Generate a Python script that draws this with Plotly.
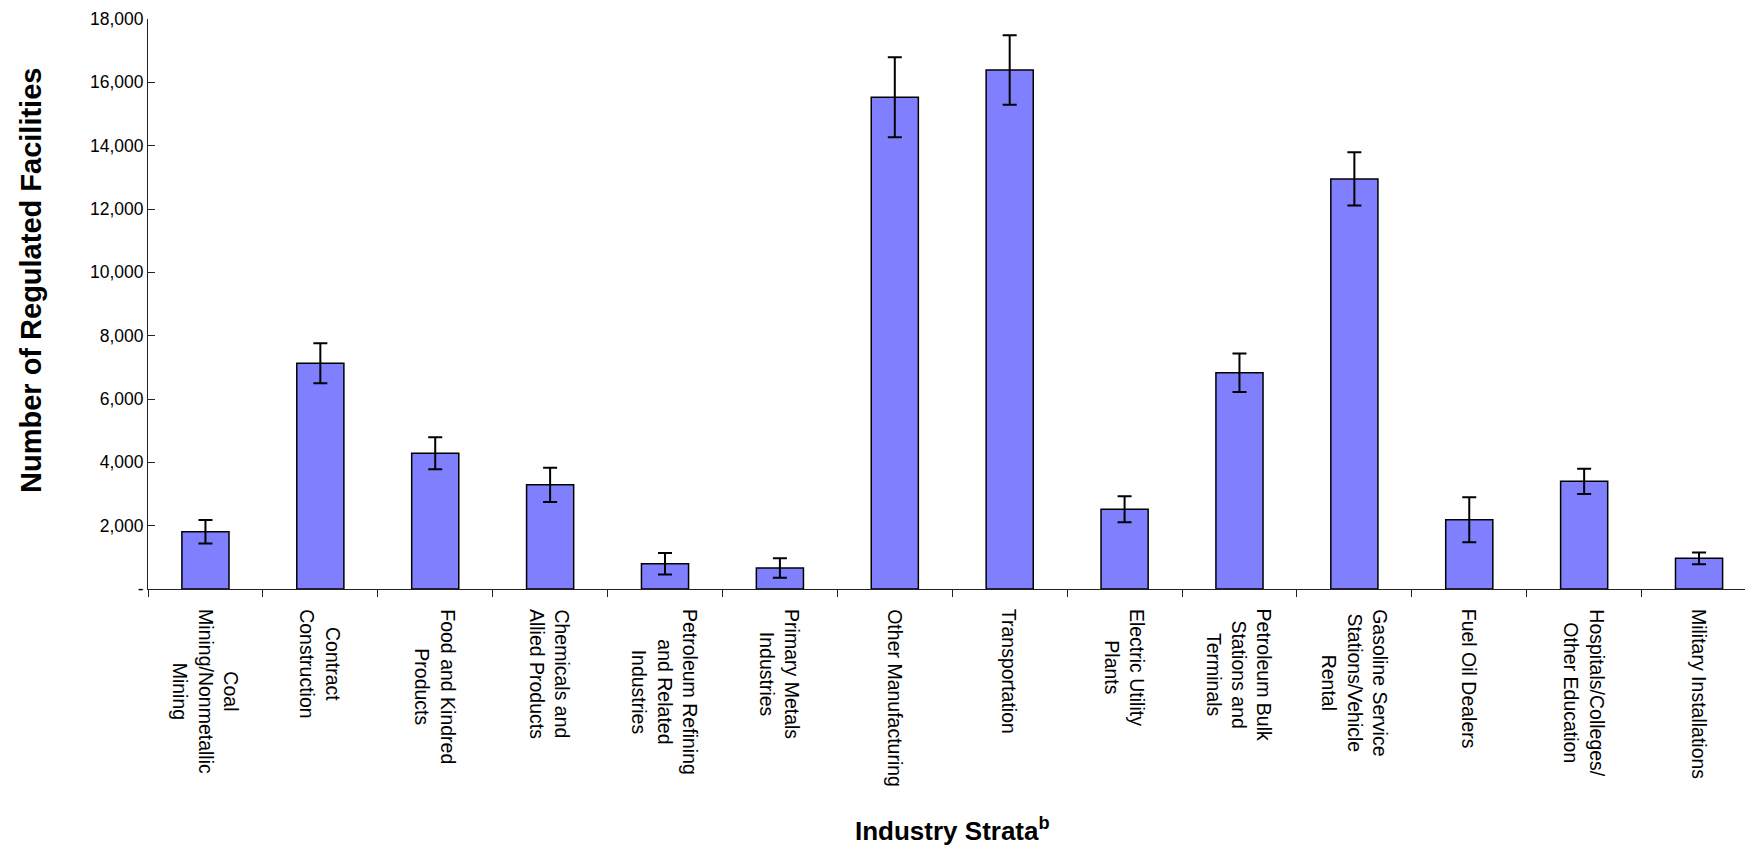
import plotly.graph_objects as go

categories = [
    "Coal<br>Mining/Nonmetallic<br>Mining",
    "Contract<br>Construction",
    "Food and Kindred<br>Products",
    "Chemicals and<br>Allied Products",
    "Petroleum Refining<br>and Related<br>Industries",
    "Primary Metals<br>Industries",
    "Other Manufacturing",
    "Transportation",
    "Electric Utility<br>Plants",
    "Petroleum Bulk<br>Stations and<br>Terminals",
    "Gasoline Service<br>Stations/Vehicle<br>Rental",
    "Fuel Oil Dealers",
    "Hospitals/Colleges/<br>Other Education",
    "Military Installations",
]
facilities = [1810, 7130, 4290, 3290, 800, 665, 15530, 16390, 2520, 6830, 12950, 2185, 3400, 970]
errors = [370, 630, 505, 540, 340, 310, 1265, 1095, 410, 605, 840, 710, 400, 185]

y_tickvals = [0, 2000, 4000, 6000, 8000, 10000, 12000, 14000, 16000, 18000]
y_ticktext = ["-", "2,000", "4,000", "6,000", "8,000", "10,000", "12,000", "14,000", "16,000", "18,000"]

FONT = "Liberation Sans, Arial, sans-serif"
W, H = 1745, 846
ML, MT, MB = 148, 19, 257
plot_w = W - ML
plot_h = H - MT - MB

fig = go.Figure()
fig.add_trace(go.Bar(
    x=categories, y=facilities, width=0.41,
    marker=dict(color="#8080FF", line=dict(color="#000000", width=1.5)),
    error_y=dict(type="data", array=errors, visible=True, color="#000000", thickness=2, width=7),
    showlegend=False, hoverinfo="x+y",
))

fig.update_layout(
    width=W, height=H,
    margin=dict(l=ML, r=0, t=MT, b=MB, pad=0),
    paper_bgcolor="white", plot_bgcolor="white",
    font=dict(family=FONT, color="black", size=17.5),
    xaxis=dict(
        type="category", range=[-0.5, 13.4], showticklabels=False,
        showline=True, linecolor="#222", linewidth=1,
        ticks="outside", tickson="boundaries", ticklen=7, tickcolor="#222", tickwidth=1,
        showgrid=False, zeroline=False,
    ),
    yaxis=dict(
        range=[0, 18000], tickvals=y_tickvals, ticktext=y_ticktext,
        showline=True, linecolor="#222", linewidth=1,
        ticks="inside", ticklen=7, tickcolor="#222", tickwidth=1,
        showgrid=False, zeroline=False,
        tickfont=dict(size=17.5, family=FONT, color="black"),
    ),
    xaxis2=dict(
        overlaying="x", anchor="y", range=[-0.5, 13.4],
        tickvals=[i - 0.5 for i in range(14)], showticklabels=False,
        ticks="inside", ticklen=7, tickcolor="#222", tickwidth=1,
        showline=False, showgrid=False, zeroline=False,
    ),
    yaxis2=dict(
        overlaying="y", anchor="x", range=[0, 18000], tickvals=y_tickvals,
        showticklabels=False, ticks="outside", ticklen=7, tickcolor="#222", tickwidth=1,
        showline=False, showgrid=False, zeroline=False,
    ),
    bargap=0.59,
)

annotations = []
for c in categories:
    annotations.append(dict(
        x=c, xref="x", y=-(607 - (MT + plot_h)) / plot_h, yref="paper",
        text=c, textangle=90, showarrow=False, align="center",
        xanchor="center", yanchor="top",
        font=dict(family=FONT, size=19.5, color="black"),
    ))

annotations.append(dict(
    x=(31 - ML) / plot_w, xref="paper", y=((MT + plot_h) - 281) / plot_h, yref="paper",
    text="<b>Number of Regulated Facilities</b>", textangle=-90, showarrow=False,
    xanchor="center", yanchor="middle",
    font=dict(family=FONT, size=29, color="black"),
))
annotations.append(dict(
    x=(952 - ML) / plot_w, xref="paper", y=((MT + plot_h) - 829) / plot_h, yref="paper",
    text="<b>Industry Strata<sup>b</sup></b>", showarrow=False,
    xanchor="center", yanchor="middle",
    font=dict(family=FONT, size=26, color="black"),
))
fig.update_layout(annotations=annotations)

fig.write_html("out.html")
